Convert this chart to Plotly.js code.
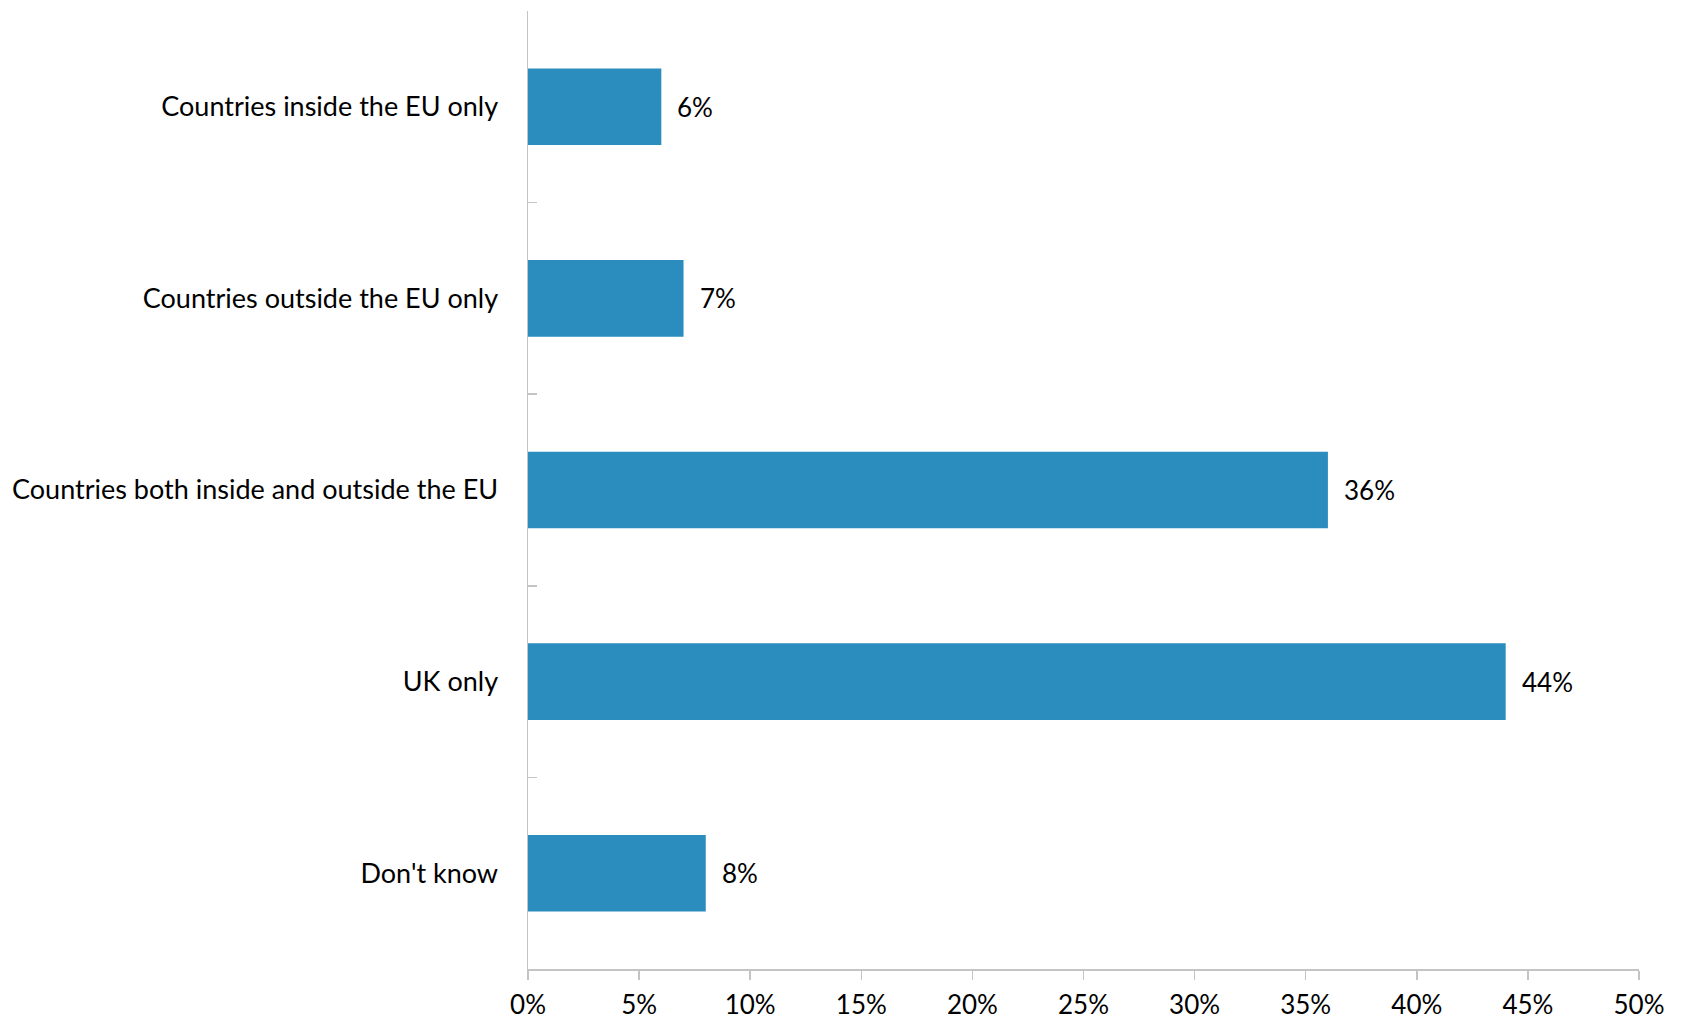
<!DOCTYPE html>
<html>
<head>
<meta charset="utf-8">
<script src="https://cdn.plot.ly/plotly-3.0.1.min.js"></script>
<style>html,body{margin:0;padding:0;background:#fff;}#chart{width:1684px;height:1021px;}</style>
</head>
<body>
<div id="chart"></div>
<script>
const categories = ["Countries inside the EU only", "Countries outside the EU only", "Countries both inside and outside the EU", "UK only", "Don't know"];
const values = [0.06, 0.07, 0.36, 0.44, 0.08];
const valueLabels = ["6%", "7%", "36%", "44%", "8%"];
const xTickVals = [0, 0.05, 0.10, 0.15, 0.20, 0.25, 0.30, 0.35, 0.40, 0.45, 0.50];
const xTickText = ["0%", "5%", "10%", "15%", "20%", "25%", "30%", "35%", "40%", "45%", "50%"];

const font = {family: "Lato, 'Open Sans', sans-serif", size: 26, color: "#000"};
const catFont = {family: "Lato, 'Open Sans', sans-serif", size: 27, color: "#000"};

const trace = {
  type: "bar",
  orientation: "h",
  y: categories,
  x: values,
  marker: {color: "rgb(43,140,190)"},
  width: 0.4,
  hoverinfo: "none"
};

const annotations = categories.map((c, i) => ({
  x: values[i], y: c, xref: "x", yref: "y",
  text: valueLabels[i], showarrow: false,
  xanchor: "left", xshift: 14, yshift: 0,
  font: font
}));

const layout = {
  width: 1684, height: 1021,
  margin: {l: 528, r: 45, t: 11, b: 52},
  paper_bgcolor: "#fff", plot_bgcolor: "#fff",
  showlegend: false,
  font: font,
  xaxis: {
    range: [0, 0.5],
    tickvals: xTickVals, ticktext: xTickText,
    showgrid: false, zeroline: false,
    showline: true, linecolor: "#C4C4C4", linewidth: 1.5,
    ticks: "outside", ticklen: 9, tickcolor: "#C4C4C4", tickwidth: 1.5,
    tickfont: font, ticklabelstandoff: 3, fixedrange: true
  },
  yaxis: {
    type: "category",
    autorange: "reversed",
    showgrid: false, zeroline: false,
    showline: true, linecolor: "#C4C4C4", linewidth: 1.5,
    ticks: "inside", ticklen: 9, tickcolor: "#C4C4C4", tickwidth: 1.5,
    tickson: "boundaries",
    tickfont: catFont, ticklabelstandoff: 23, fixedrange: true
  },
  annotations: annotations
};

Plotly.newPlot("chart", [trace], layout, {displayModeBar: false, staticPlot: true});
</script>
</body>
</html>
